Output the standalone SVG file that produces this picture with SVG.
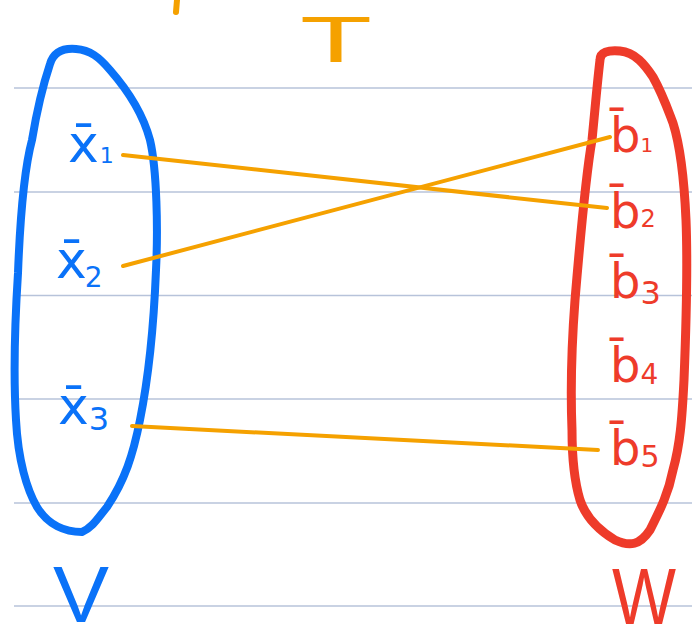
<svg xmlns="http://www.w3.org/2000/svg" width="692" height="642" viewBox="0 0 692 642">
<style>
.rule{stroke:#b7c3da;stroke-width:1.5}
.blue{fill:#0a72f8}
.red{fill:#ee3b2a}
.lbl{font-family:"DejaVu Sans","Liberation Sans",sans-serif}
.set{fill:none;stroke-linecap:round;stroke-linejoin:round}
.conn{stroke:#f5a100;stroke-width:4;stroke-linecap:round;fill:none}
</style>
<rect width="692" height="642" fill="#ffffff"/>
<g id="rules">
<line class="rule" x1="14" y1="88" x2="692" y2="88"/>
<line class="rule" x1="14" y1="192" x2="692" y2="192"/>
<line class="rule" x1="14" y1="295.5" x2="692" y2="295.5"/>
<line class="rule" x1="14" y1="399" x2="692" y2="399"/>
<line class="rule" x1="14" y1="503" x2="692" y2="503"/>
<line class="rule" x1="14" y1="606" x2="692" y2="606"/>
</g>
<g id="T">
<path d="M177,0 L176,12" stroke="#f5a100" stroke-width="6" stroke-linecap="round" fill="none"/>
<text x="300" y="62" font-family="Liberation Sans,sans-serif" font-size="64" fill="#f5a100" textLength="72" lengthAdjust="spacingAndGlyphs">T</text>
</g>
<g id="V">
<path class="set" stroke="#0a72f8" stroke-width="8" d="M50,64 C54,51 64,48 76,49 C90,50 99,57 110,70 C124,86 142,110 150,140 C157,170 158,230 156,270 C154,320 150,370 140,420 C133,455 125,480 107,507 C98,518 92,528 82,532 C65,532 48,525 37,507 C27,490 18,460 16,420 C13,370 15,320 18,273 C20,220 24,170 32,140 C37,110 44,82 50,64 Z"/>
<text class="lbl blue" x="68" y="162" font-size="52">x̄<tspan font-size="22" dx="1" dy="1">1</tspan></text>
<text class="lbl blue" x="56" y="278" font-size="52">x̄<tspan font-size="28" dx="-2" dy="9">2</tspan></text>
<text class="lbl blue" x="58" y="424" font-size="52">x̄<tspan font-size="32" dx="0" dy="6">3</tspan></text>
<text x="53" y="622" font-family="Liberation Sans,sans-serif" font-size="80" fill="#0a72f8" textLength="56" lengthAdjust="spacingAndGlyphs">V</text>
</g>
<g id="W">
<path class="set" stroke="#ee3b2a" stroke-width="9" d="M600,60 C600,52 608,50 620,51 C635,52 645,65 653,77 C663,95 668,110 673,123 C680,145 684,175 686,220 C688,270 686,330 684,380 C682,420 680,445 673,470 C668,495 660,510 650,530 C640,545 630,547 615,540 C595,528 585,515 580,500 C574,480 572,460 572,430 C570,380 572,340 575,300 C580,240 585,180 592,140 C595,110 597,85 600,60 Z"/>
<text class="lbl red" x="610" y="152" font-size="48">b̄<tspan font-size="20" dx="0">1</tspan></text>
<text class="lbl red" x="610" y="228" font-size="48">b̄<tspan font-size="24" dx="0" dy="-1">2</tspan></text>
<text class="lbl red" x="610" y="298" font-size="48">b̄<tspan font-size="32" dx="0" dy="6">3</tspan></text>
<text class="lbl red" x="610" y="382" font-size="48">b̄<tspan font-size="28" dx="0" dy="2">4</tspan></text>
<text class="lbl red" x="610" y="465" font-size="48">b̄<tspan font-size="30" dx="0" dy="2">5</tspan></text>
<text x="612" y="624" font-family="Liberation Sans,sans-serif" font-size="80" fill="#ee3b2a" textLength="64" lengthAdjust="spacingAndGlyphs">W</text>
</g>
<g id="connectors">
<line class="conn" x1="123" y1="155" x2="607" y2="208"/>
<line class="conn" x1="123" y1="266" x2="610" y2="137"/>
<line class="conn" x1="132" y1="426" x2="598" y2="450"/>
</g>
</svg>
